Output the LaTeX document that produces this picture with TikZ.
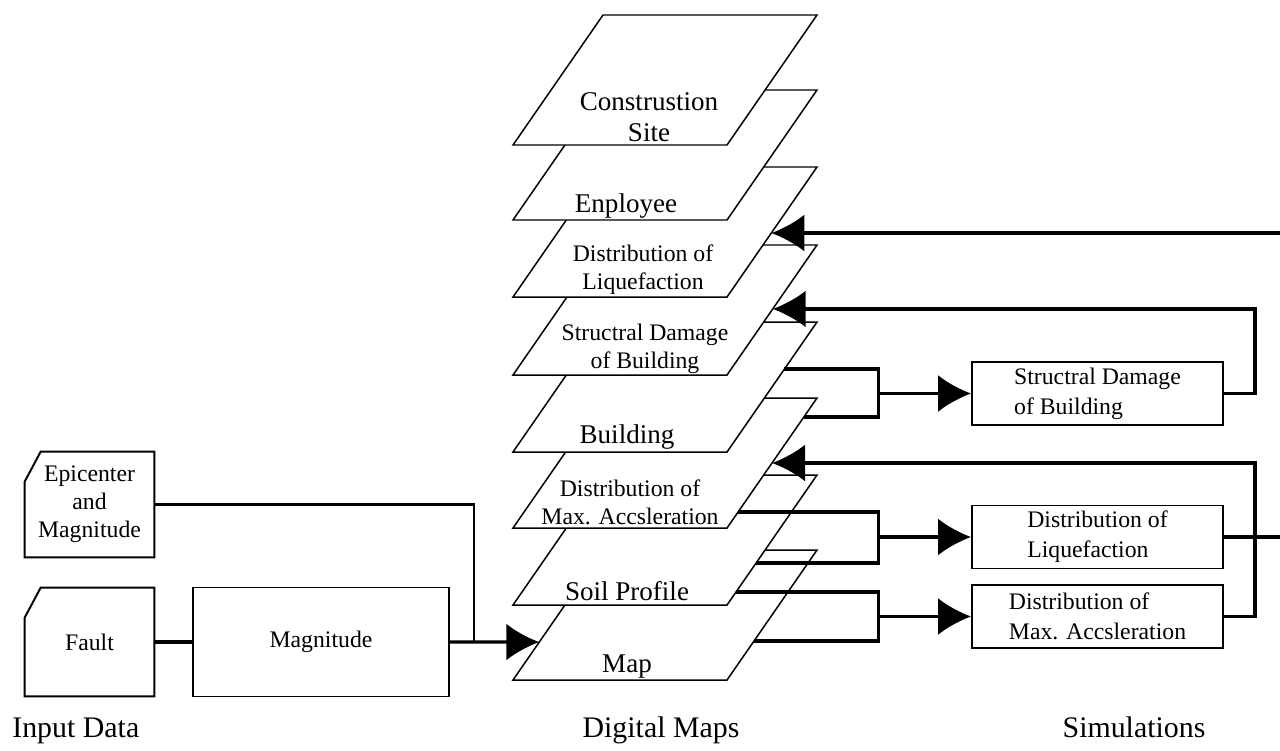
\documentclass[tikz,border=0pt]{standalone}
\usepackage{fontspec}
\setmainfont{Liberation Serif}
\usetikzlibrary{calc,arrows.meta}

\tikzset{
  layer/.style={draw, line width=0.85pt, fill=white},
  smalltext/.style={align=center, inner sep=0pt, font=\fontsize{13.5}{16}\selectfont},
  bigtext/.style={align=center, inner sep=0pt, font=\fontsize{15.4}{18}\selectfont},
  simbox/.style={draw, line width=1.1pt, minimum width=5.02cm, minimum height=1.26cm,
    align=left, inner sep=0pt, font=\fontsize{13.5}{17}\selectfont},
  inbox/.style={minimum width=2.58cm, align=center, inner sep=0pt,
    font=\fontsize{13.5}{16}\selectfont},
  boxline/.style={draw, line width=1.1pt},
  link/.style={line width=1.8pt},
  thinlink/.style={line width=1.3pt},
  arr/.style={link, -{Latex[length=0.66cm, width=0.74cm]}},
  caption/.style={anchor=base, inner sep=0pt, font=\fontsize{17}{20}\selectfont},
}

% one sheet of the map stack: name, y of lower edge
\newcommand{\maplayer}[2]{%
  \coordinate (#1-bl) at (513,#2);
  \coordinate (#1-br) at (727,#2);
  \coordinate (#1-tr) at (817,{#2-130});
  \coordinate (#1-tl) at (603,{#2-130});
  \draw[layer] (#1-bl) -- (#1-br) -- (#1-tr) -- (#1-tl) -- cycle;
}

\begin{document}
\begin{tikzpicture}[x=0.02cm, y=-0.02cm]
	%%%%% FRAME %%%%%
	\useasboundingbox (0,0) rectangle (1280,750);
	\clip (0,0) rectangle (1280,750);
	
	%%%%% DIGITAL MAPS %%%%%
	\maplayer{map}{680}
	\node[bigtext] (map-t) at (627,667) {Map};
	
	\maplayer{soil}{605}
	\node[bigtext] (soil-t) at (627,591) {Soil Profile};
	
	\maplayer{macc}{528}
	\node[smalltext] (macc-t) at (630,502) {Distribution of\\Max. Accsleration};
	
	\maplayer{bld}{452}
	\node[bigtext] (bld-t) at (627,437) {Building};
	
	\maplayer{sdmg}{375}
	\node[smalltext] (sdmg-t) at (645,349) {Structral Damage\\of Building};
	
	\maplayer{liq}{297}
	\node[smalltext] (liq-t) at (643,270) {Distribution of\\Liquefaction};
	
	\maplayer{emp}{220}
	\node[bigtext] (emp-t) at (626,206) {Enployee};
	
	\maplayer{site}{145}
	\node[bigtext] (site-t) at (649,117) {Construstion\\Site};
	
	%%%%% INPUT DATA %%%%%
	\node[inbox, minimum height=2.1cm] (epi) at (89.5,504.5) {Epicenter\\and\\Magnitude};
	\draw[boxline] (epi.south west) -- (epi.south east) -- (epi.north east)
		-- ([xshift=0.32cm]epi.north west) -- ([yshift=-0.6cm]epi.north west) -- cycle;
	
	\node[inbox, minimum height=2.16cm] (fault) at (89.5,642) {Fault};
	\draw[boxline] (fault.south west) -- (fault.south east) -- (fault.north east)
		-- ([xshift=0.32cm]fault.north west) -- ([yshift=-0.6cm]fault.north west) -- cycle;
	
	\node[boxline, inbox, minimum width=5.12cm, minimum height=2.18cm] (mag) at (321,642) {Magnitude};
	
	\coordinate (join) at (474,642);
	\coordinate (map-in) at ($(map-bl)!0.292!(map-tl)$);
	
	\draw[link] (fault) -- (mag);
	\draw[thinlink] (epi.east) -| (join);
	\draw[arr] (mag) -- (map-in);
	
	%%%%% SIMULATIONS %%%%%
	\node[simbox] (simsd) at (1097.5,393.5) {Structral Damage\\of Building};
	\node[simbox] (simliq) at (1097.5,537) {Distribution of\\Liquefaction};
	\node[simbox] (simacc) at (1097.5,616.5) {Distribution of\\Max. Accsleration};
	
	% where the lines leave the sheets
	\coordinate (bld-out) at ($(bld-br)!0.638!(bld-tr)$);
	\coordinate (macc-out1) at ($(macc-br)!0.854!(macc-tr)$);
	\coordinate (macc-out2) at ($(macc-br)!0.123!(macc-tr)$);
	\coordinate (soil-out1) at ($(soil-br)!0.323!(soil-tr)$);
	\coordinate (soil-out2) at ($(soil-br)!0.1!(soil-tr)$);
	\coordinate (map-out) at ($(map-br)!0.3!(map-tr)$);
	
	% where the results come back
	\coordinate (liq-in) at ($(liq-br)!0.492!(liq-tr)$);
	\coordinate (sdmg-in) at ($(sdmg-br)!0.508!(sdmg-tr)$);
	\coordinate (macc-in) at ($(macc-br)!0.5!(macc-tr)$);
	
	\coordinate (simsd-in) at ([xshift=-1.86cm]simsd.west);
	\coordinate (simliq-in) at ([xshift=-1.86cm]simliq.west);
	\coordinate (simacc-in) at ([xshift=-1.86cm]simacc.west);
	
	\draw[link] (bld-out) -| (simsd-in) |- (macc-out1);
	\draw[link] (macc-out2) -| (simliq-in) |- (soil-out1);
	\draw[link] (soil-out2) -| (simacc-in) |- (map-out);
	
	\draw[arr] (simsd-in) -- (simsd.west);
	\draw[arr] (simliq-in) -- (simliq.west);
	\draw[arr] (simacc-in) -- (simacc.west);
	
	\draw[arr] (simsd.east) -- ++(31,0) |- (sdmg-in);
	\draw[arr] (simacc.east) -- ++(31,0) |- (macc-in);
	\draw[arr] (simliq.east) -- ++(80,0) |- (liq-in);
	
	%%%%% CAPTIONS %%%%%
	\node[caption, anchor=base west] (cap-in) at (12,737) {Input Data};
	\node[caption] (cap-maps) at (661,737) {Digital Maps};
	\node[caption] (cap-sim) at (1134,737) {Simulations};
\end{tikzpicture}
\end{document}
